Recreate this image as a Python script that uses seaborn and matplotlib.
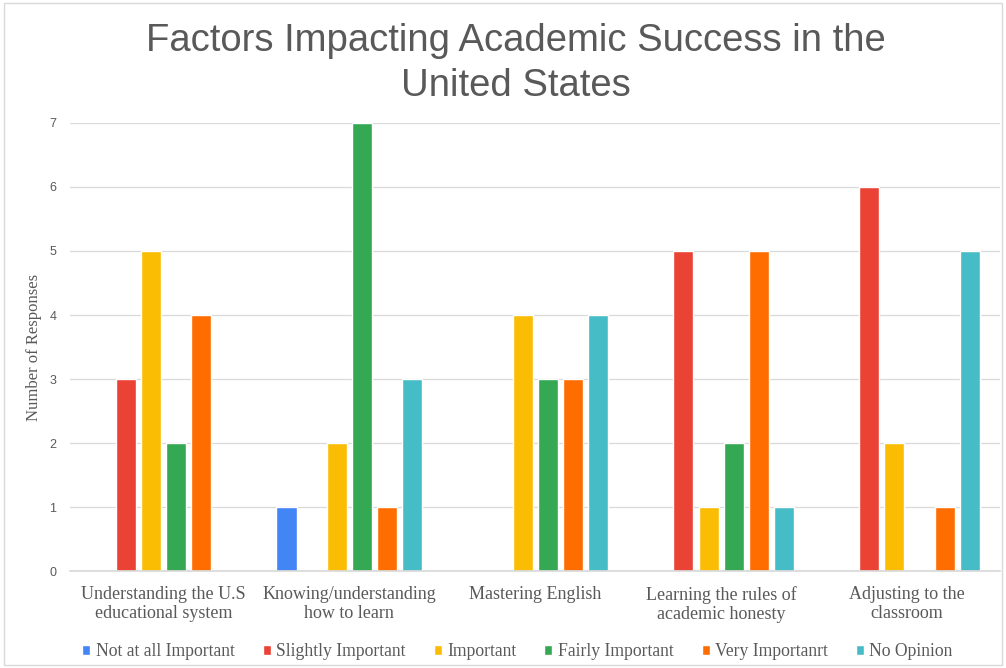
import matplotlib
matplotlib.use("Agg")
import matplotlib.pyplot as plt
import seaborn as sns
import pandas as pd
from matplotlib.patches import Rectangle

categories = ["Understanding the U.S\neducational system",
              "Knowing/understanding\nhow to learn",
              "Mastering English",
              "Learning the rules of\nacademic honesty",
              "Adjusting to the\nclassroom"]
series = ["Not at all Important", "Slightly Important", "Important",
          "Fairly Important", "Very Importanrt", "No Opinion"]
not_at_all = [0, 1, 0, 0, 0]
slightly = [3, 0, 0, 5, 6]
important = [5, 2, 4, 1, 2]
fairly = [2, 7, 3, 2, 0]
very = [4, 1, 3, 5, 1]
no_opinion = [0, 3, 4, 1, 5]
colors = ["#4285F4", "#EA4335", "#FBBC04", "#34A853", "#FF6D01", "#46BDC6"]

values = [not_at_all, slightly, important, fairly, very, no_opinion]
rows = []
for s, vals in zip(series, values):
    for c, v in zip(categories, vals):
        rows.append({"Category": c, "Series": s, "Value": v})
df = pd.DataFrame(rows)

sns.set_theme(style="white")
plt.rcParams['font.family'] = ['Liberation Serif', 'DejaVu Sans']

fig = plt.figure(figsize=(10.06, 6.68), dpi=100)
ax = fig.add_axes([0.07, 0.145, 0.924, 0.671])
sns.barplot(data=df, x="Category", y="Value", hue="Series", hue_order=series,
            order=categories, palette=colors, width=0.81, ax=ax,
            saturation=1, errorbar=None, gap=0.2)

ax.set_ylim(0, 7)
ax.set_xlim(-0.5, 4.5)
ax.set_yticks(range(0, 8))
ax.yaxis.grid(True, color="#d9d9d9", linewidth=0.9)
ax.set_axisbelow(True)
for sp in ["top", "right", "left"]:
    ax.spines[sp].set_visible(False)
ax.spines["bottom"].set_color("#d9d9d9")
ax.tick_params(axis="y", labelsize=9, colors="#595959", length=0, pad=10)
for lbl in ax.get_yticklabels():
    lbl.set_fontfamily(["Liberation Sans", "DejaVu Sans"])
ax.tick_params(axis="x", labelsize=13, colors="#595959", length=0, pad=10.5)
ax.set_xlabel("")
ax.set_ylabel("Number of Responses", fontsize=12, color="#595959")
ax.yaxis.set_label_coords(-0.031, 0.5)

leg = ax.legend(loc="upper center", bbox_to_anchor=(0.481, -0.126), ncol=6,
                frameon=False, fontsize=12.7, handlelength=0.45, handleheight=0.45,
                handletextpad=0.3, columnspacing=1.6, labelcolor="#595959")

fig.text(0.513, 0.965, "Factors Impacting Academic Success in the\nUnited States",
         fontsize=27.5, color="#595959", ha="center", va="top",
         fontfamily=["Liberation Sans", "DejaVu Sans"], linespacing=1.3)

fig.patches.append(Rectangle((0.004, 0.004), 0.992, 0.992, transform=fig.transFigure,
                             fill=False, edgecolor="#d9d9d9", linewidth=1))

fig.savefig("out.png", dpi=100)
